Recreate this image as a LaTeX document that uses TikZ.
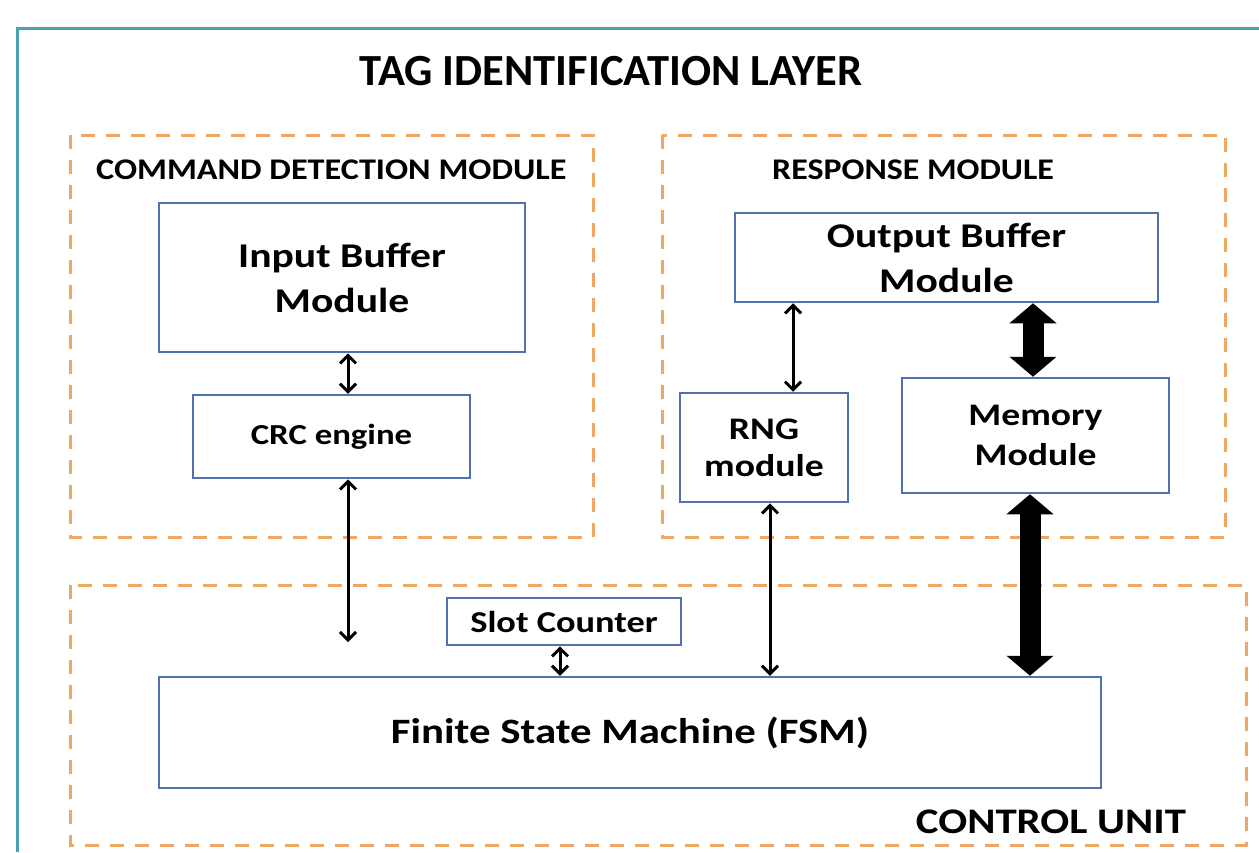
\documentclass[tikz,border=0pt]{standalone}
\usepackage{fontspec}
\setmainfont{Carlito}
\usepackage{graphicx}
\usetikzlibrary{arrows.meta}
\definecolor{tealline}{RGB}{75,160,180}
\definecolor{boxblue}{RGB}{80,115,175}
\definecolor{dashor}{RGB}{238,168,100}
\newcommand{\wx}[2][1.2]{\scalebox{#1}[1]{#2}}
\tikzset{
 box/.style={draw=boxblue, line width=2.5pt, fill=white, inner sep=0pt, align=center},
 group/.style={draw=dashor, line width=3pt, dash pattern=on 14pt off 11pt},
 thinarrow/.style={draw=black, line width=3pt, {Straight Barb[length=8pt,width=16pt]}-{Straight Barb[length=8pt,width=16pt]}},
 thickarrow/.style={draw=black, line width=21pt, {Triangle[length=20pt,width=46pt]}-{Triangle[length=20pt,width=46pt]}},
 lbl/.style={inner sep=0pt, text=black},
}
\begin{document}
\begin{tikzpicture}[x=1pt,y=-1pt]
\useasboundingbox (0,0) rectangle (1259,852);
\fill[white] (0,0) rectangle (1259,852);
\draw[tealline, line width=3pt] (17,852) -- (17,28) -- (1259,28);
% groups
\draw[group] (70,135) rectangle (593,537);
\draw[group] (662,135) rectangle (1225,537);
\draw[group] (70,585) rectangle (1246,845);
% labels
\node[lbl, font=\bfseries\fontsize{44.5}{52}\selectfont] (title) at (611,71) {TAG IDENTIFICATION LAYER};
\node[lbl, anchor=west, font=\bfseries\fontsize{30}{36}\selectfont] (cdmlbl) at (96,170) {\wx[1.14]{COMMAND DETECTION MODULE}};
\node[lbl, anchor=west, font=\bfseries\fontsize{30}{36}\selectfont] (rmlbl) at (772,170) {\wx[1.13]{RESPONSE MODULE}};
\node[lbl, font=\bfseries\fontsize{36}{42}\selectfont] (culbl) at (1051,822) {\wx[1.19]{CONTROL UNIT}};
% boxes
\node[box, minimum width=366pt, minimum height=149pt, font=\bfseries\fontsize{34.7}{45}\selectfont] (ibm) at (342,277.5) {\wx{Input Buffer}\\\wx{Module}};
\node[box, minimum width=277pt, minimum height=83pt, font=\bfseries\fontsize{29}{34}\selectfont] (crc) at (331.5,436.5) {\wx{CRC engine}};
\node[box, minimum width=423pt, minimum height=89pt, font=\bfseries\fontsize{34.7}{45}\selectfont] (ob) at (946.5,257.5) {\wx{Output Buffer}\\\wx{Module}};
\node[box, minimum width=168pt, minimum height=109pt, font=\bfseries\fontsize{31.4}{37}\selectfont] (rng) at (764,447.5) {\wx{RNG}\\\wx{module}};
\node[box, minimum width=267pt, minimum height=115pt, font=\bfseries\fontsize{31.4}{40}\selectfont] (mem) at (1035.5,435.5) {\wx{Memory}\\\wx{Module}};
\node[box, minimum width=234pt, minimum height=47pt, font=\bfseries\fontsize{30.3}{34}\selectfont] (sc) at (564,621.5) {\wx{Slot Counter}};
\node[box, minimum width=942pt, minimum height=111pt, font=\bfseries\fontsize{35.7}{42}\selectfont] (fsm) at (630,732.5) {\wx{Finite State Machine (FSM)}};
% connector x positions
\coordinate (xa) at (348,0);
\coordinate (xb) at (793,0);
\coordinate (xc) at (770,0);
\coordinate (xd) at (1033,0);
\coordinate (xe) at (1030,0);
\coordinate (xf) at (560,0);
\coordinate (crcend) at (348,642);
% connectors
\draw[thinarrow] (ibm.south -| xa) -- (crc.north -| xa);
\draw[thinarrow] (crc.south -| xa) -- (crcend);
\draw[thinarrow] (ob.south -| xb) -- (rng.north -| xb);
\draw[thinarrow] (rng.south -| xc) -- (fsm.north -| xc);
\draw[thinarrow] (sc.south -| xf) -- (fsm.north -| xf);
\draw[thickarrow] (ob.south -| xd) -- (mem.north -| xd);
\draw[thickarrow] (mem.south -| xe) -- (fsm.north -| xe);
\end{tikzpicture}
\end{document}
